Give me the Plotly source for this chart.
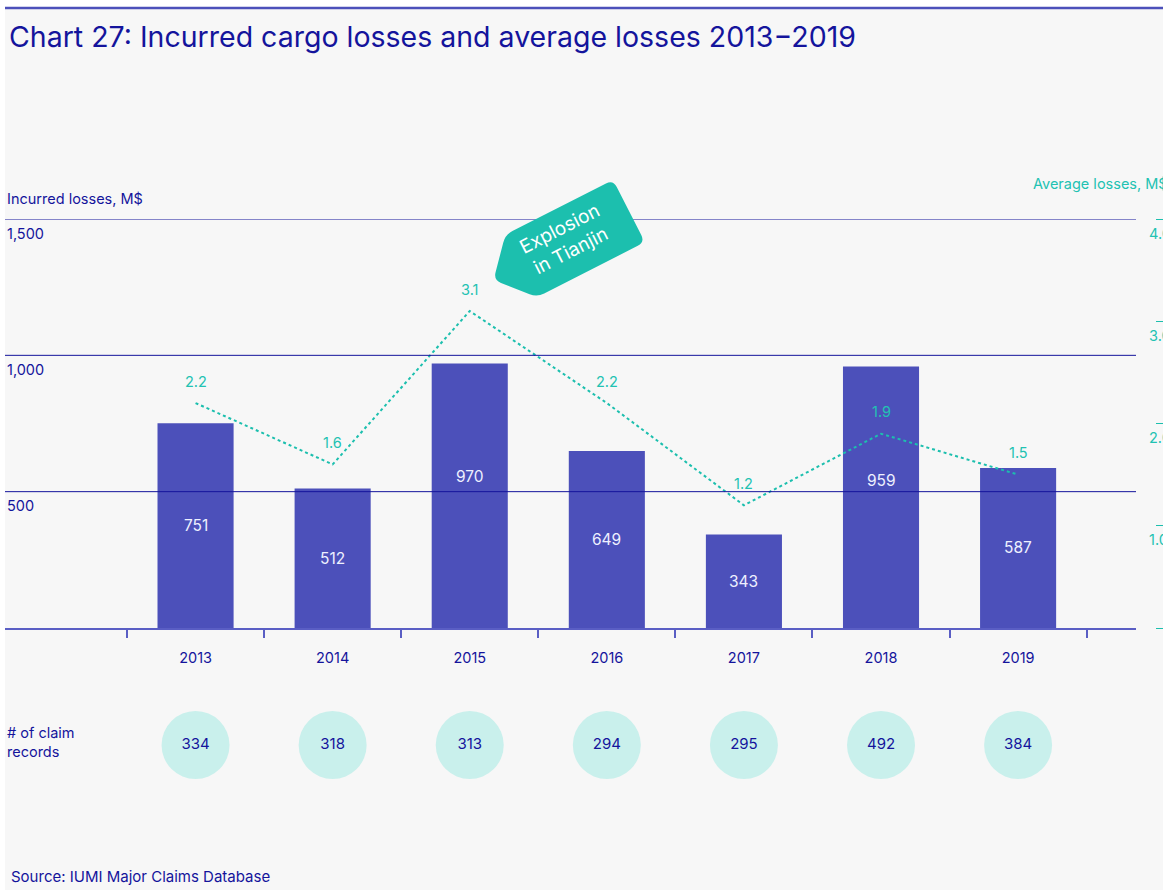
import math
import plotly.graph_objects as go

# ---- data ----
years = ["2013", "2014", "2015", "2016", "2017", "2018", "2019"]
incurred_losses = [751, 512, 970, 649, 343, 959, 587]          # M$
average_losses = [2.2, 1.6, 3.1, 2.2, 1.2, 1.9, 1.5]            # M$
claim_records = [334, 318, 313, 294, 295, 492, 384]
left_ticks = [500, 1000, 1500]
right_ticks = [1.0, 2.0, 3.0, 4.0]

# ---- styling ----
W, H = 1163, 890
NAVY = "#14149c"
BAR = "#4c50ba"
AXIS = "#5a5ec4"
TEAL = "#1cbfae"
TEAL_TXT = "#22c2b2"
CIRCLE = "#c9f0ec"
BG = "#f7f7f7"
FONT = "Inter"
bar_label_lift = {"2015": 19, "2018": 17}


def px(x):
    return x / W


def py(y):
    return 1 - y / H


fig = go.Figure()

fig.add_trace(go.Bar(
    x=years, y=incurred_losses, marker=dict(color=BAR, line=dict(width=0)),
    width=0.555, hoverinfo="skip", showlegend=False,
))

fig.add_trace(go.Scatter(
    x=years, y=average_losses, yaxis="y2", mode="lines",
    line=dict(color=TEAL, width=2, dash="dot"),
    hoverinfo="skip", showlegend=False,
))

fig.add_trace(go.Scatter(
    x=years, y=[0.5] * len(years), yaxis="y3", mode="markers+text",
    marker=dict(size=68, color=CIRCLE, line=dict(width=0)),
    text=[str(v) for v in claim_records], textposition="middle center",
    textfont=dict(family=FONT, size=15, color=NAVY),
    hoverinfo="skip", showlegend=False, cliponaxis=False,
))

shapes = []
# grey canvas and the rule above the title
shapes.append(dict(type="rect", xref="paper", yref="paper", x0=px(5), x1=1,
                   y0=0, y1=py(8), fillcolor=BG, line=dict(width=0), layer="below"))
shapes.append(dict(type="line", xref="paper", yref="paper", x0=px(5), x1=1,
                   y0=py(8), y1=py(8), line=dict(color=BAR, width=2.5)))
# horizontal gridlines drawn over the bars
for t in left_ticks:
    shapes.append(dict(type="line", xref="paper", yref="y", x0=px(5), x1=px(1136),
                       y0=t, y1=t, line=dict(color=NAVY, width=1), layer="above"))

# callout tag pointing at the 2015 peak
ang = math.radians(27)
u = (math.cos(ang), -math.sin(ang))
v = (math.sin(ang), math.cos(ang))
R = (629, 211)


def local(a, b):
    return (R[0] + a * u[0] + b * v[0], R[1] + a * u[1] + b * v[1])


poly = [local(0, -35), local(0, 35), local(-121, 35), local(-152, 0), local(-121, -35)]
rad = 8
path = ""
n = len(poly)
for i in range(n):
    p0, p1, p2 = poly[i - 1], poly[i], poly[(i + 1) % n]
    d1 = math.hypot(p0[0] - p1[0], p0[1] - p1[1])
    d2 = math.hypot(p2[0] - p1[0], p2[1] - p1[1])
    a = (p1[0] + (p0[0] - p1[0]) * rad / d1, p1[1] + (p0[1] - p1[1]) * rad / d1)
    b = (p1[0] + (p2[0] - p1[0]) * rad / d2, p1[1] + (p2[1] - p1[1]) * rad / d2)
    path += ("M" if i == 0 else "L") + f"{px(a[0]):.5f},{py(a[1]):.5f} "
    path += f"Q{px(p1[0]):.5f},{py(p1[1]):.5f} {px(b[0]):.5f},{py(b[1]):.5f} "
path += "Z"
shapes.append(dict(type="path", xref="paper", yref="paper", path=path,
                   fillcolor=TEAL, line=dict(width=0), layer="above"))

ann = []
ann.append(dict(text="Chart 27: Incurred cargo losses and average losses 2013\u22122019",
                xref="paper", yref="paper", x=px(7), y=py(37), xanchor="left", yanchor="middle",
                showarrow=False, font=dict(family=FONT, size=28.5, color=NAVY)))
ann.append(dict(text="Incurred losses, M$", xref="paper", yref="paper", x=px(5), y=py(198),
                xanchor="left", yanchor="middle", showarrow=False,
                font=dict(family=FONT, size=14.5, color=NAVY)))
ann.append(dict(text="Average losses, M$", xref="paper", yref="paper", x=px(1031), y=py(184),
                xanchor="left", yanchor="middle", showarrow=False,
                font=dict(family=FONT, size=14.5, color=TEAL_TXT)))
for t in left_ticks:
    ann.append(dict(text=f"{t:,}", xref="paper", yref="y", x=px(5), y=t, yshift=-14,
                    xanchor="left", yanchor="middle", showarrow=False,
                    font=dict(family=FONT, size=14.5, color=NAVY)))
for t in right_ticks:
    ann.append(dict(text=f"{t:.1f}", xref="paper", yref="y2", x=px(1147), y=t, yshift=-14,
                    xanchor="left", yanchor="middle", showarrow=False,
                    font=dict(family=FONT, size=14.5, color=TEAL_TXT)))
for i, (yr, val) in enumerate(zip(years, incurred_losses)):
    ann.append(dict(text=str(val), xref="x", yref="y", x=i, y=val / 2,
                    yshift=bar_label_lift.get(yr, 0), showarrow=False,
                    font=dict(family=FONT, size=15.5, color="#eef0ff")))
for i, val in enumerate(average_losses):
    ann.append(dict(text=f"{val:.1f}", xref="x", yref="y2", x=i, y=val, yshift=22,
                    showarrow=False, font=dict(family=FONT, size=14.5, color=TEAL_TXT)))
ann.append(dict(text="# of claim<br>records", xref="paper", yref="paper", x=px(5), y=py(742),
                xanchor="left", yanchor="middle", align="left", showarrow=False,
                font=dict(family=FONT, size=14.5, color=NAVY)))
ann.append(dict(text="Source: IUMI Major Claims Database", xref="paper", yref="paper",
                x=px(9), y=py(876), xanchor="left", yanchor="middle", showarrow=False,
                font=dict(family=FONT, size=15, color=NAVY)))
ann.append(dict(text="Explosion<br>in Tianjin", xref="paper", yref="paper", x=px(565), y=py(240),
                xanchor="center", yanchor="middle", textangle=-27, showarrow=False,
                font=dict(family=FONT, size=19, color="#ffffff")))

fig.update_layout(
    width=W, height=H, margin=dict(l=0, r=0, t=0, b=0),
    paper_bgcolor="#ffffff", plot_bgcolor="rgba(0,0,0,0)",
    shapes=shapes, annotations=ann, bargap=0.4,
    xaxis=dict(type="category", categoryorder="array", categoryarray=years,
               domain=[px(5), px(1136)], range=[-1.39, 6.86], anchor="y",
               showline=True, linecolor=AXIS, linewidth=2,
               ticks="outside", tickson="boundaries", ticklen=8, tickwidth=1.5, tickcolor=AXIS,
               showgrid=False, zeroline=False, ticklabelstandoff=16,
               tickfont=dict(family=FONT, size=14.5, color=NAVY), fixedrange=True),
    yaxis=dict(domain=[py(628), py(219)], range=[0, 1500], showgrid=False, zeroline=False,
               showticklabels=False, ticks="", showline=False, fixedrange=True),
    yaxis2=dict(overlaying="y", range=[0, 4], anchor="free", position=px(1155), side="right",
                tickvals=[0, 1, 2, 3, 4], ticks="outside", ticklen=8, tickcolor=TEAL, tickwidth=1,
                showticklabels=False, showgrid=False, zeroline=False, showline=False,
                fixedrange=True),
    yaxis3=dict(domain=[py(790), py(700)], range=[0, 1], visible=False, anchor="x",
                fixedrange=True),
)

fig.write_html("out.html")
